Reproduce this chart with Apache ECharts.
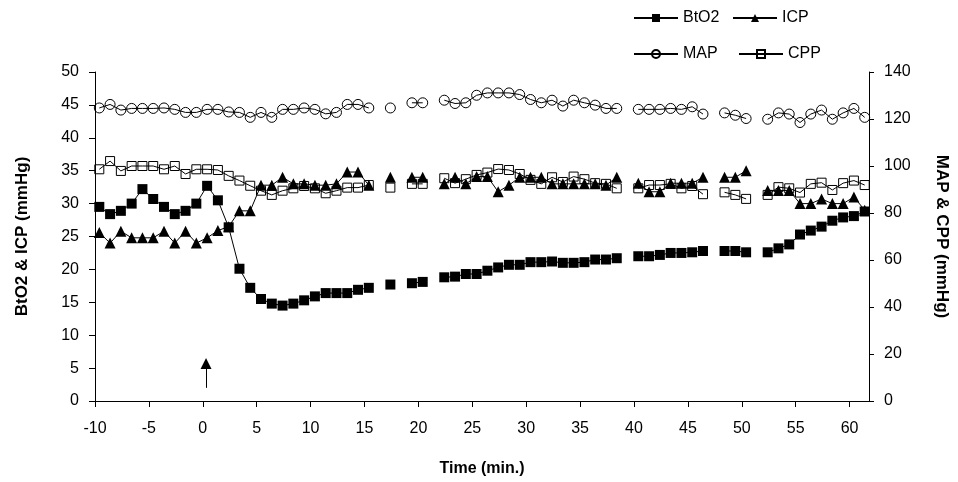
<!DOCTYPE html>
<html>
<head>
<meta charset="utf-8">
<script src="https://cdn.jsdelivr.net/npm/echarts@6/dist/echarts.min.js"></script>
<style>
	html, body { margin: 0; padding: 0; background: #fff; }
	#e_chart_1 { width: 958px; height: 482px; }
</style>
</head>
<body>
<div id="e_chart_1"></div>
<script>
/*Brain oxygen chart*/

"use strict";

/*****Data start*****/
var timeMin = [
	-9.6, -8.6, -7.6, -6.6, -5.6, -4.6, -3.6, -2.6, -1.6, -0.6,
	0.4, 1.4, 2.4, 3.4, 4.4, 5.4, 6.4, 7.4, 8.4, 9.4,
	10.4, 11.4, 12.4, 13.4, 14.4, 15.4, 16.4, 17.4, 18.4, 19.4,
	20.4, 21.4, 22.4, 23.4, 24.4, 25.4, 26.4, 27.4, 28.4, 29.4,
	30.4, 31.4, 32.4, 33.4, 34.4, 35.4, 36.4, 37.4, 38.4, 39.4,
	40.4, 41.4, 42.4, 43.4, 44.4, 45.4, 46.4, 47.4, 48.4, 49.4,
	50.4, 51.4, 52.4, 53.4, 54.4, 55.4, 56.4, 57.4, 58.4, 59.4,
	60.4, 61.4
];
var btO2 = [
	29.5, 28.4, 28.9, 30.0, 32.2, 30.7, 29.5, 28.4, 28.9, 30.0,
	32.7, 30.5, 26.4, 20.1, 17.2, 15.5, 14.8, 14.5, 14.8, 15.3,
	15.9, 16.4, 16.4, 16.4, 16.9, 17.2, null, 17.7, null, 17.9,
	18.1, null, 18.8, 18.9, 19.3, 19.3, 19.8, 20.3, 20.7, 20.7,
	21.1, 21.1, 21.2, 21.0, 21.0, 21.1, 21.5, 21.5, 21.7, null,
	22.0, 22.0, 22.2, 22.5, 22.5, 22.6, 22.8, null, 22.8, 22.8,
	22.6, null, 22.6, 23.2, 23.8, 25.3, 25.9, 26.5, 27.4, 27.9,
	28.1, 28.8
];
var icp = [
	25.6, 24.0, 25.8, 24.8, 24.8, 24.8, 25.8, 24.0, 25.8, 24.0,
	24.8, 25.9, 26.5, 28.9, 28.9, 32.8, 32.8, 34.0, 33.0, 33.0,
	32.8, 32.8, 33.0, 34.8, 34.8, 32.8, null, 34.0, null, 34.0,
	34.0, null, 33.0, 34.0, 33.0, 34.1, 34.1, 31.8, 32.8, 34.0,
	34.0, 34.0, 33.0, 33.0, 33.0, 33.0, 33.0, 32.8, 34.0, null,
	33.1, 31.8, 31.8, 33.1, 33.1, 33.1, 34.0, null, 34.0, 34.0,
	35.0, null, 32.0, 32.0, 32.0, 30.0, 30.0, 30.7, 30.0, 30.0,
	31.0, 29.0
];
var map = [
	124.7, 126.2, 123.8, 124.5, 124.5, 124.5, 124.7, 124.1, 122.8, 122.8,
	124.1, 124.1, 123.0, 122.8, 120.7, 122.8, 120.7, 124.1, 124.1, 124.7,
	124.1, 122.2, 122.8, 126.2, 126.2, 124.7, null, 124.7, null, 126.9,
	126.9, null, 128.0, 126.6, 126.9, 130.1, 131.1, 131.1, 131.1, 130.4,
	128.3, 126.9, 128.0, 125.5, 128.0, 126.9, 125.9, 124.5, 124.5, null,
	124.1, 124.1, 124.1, 124.5, 124.1, 125.2, 122.1, null, 122.6, 121.6,
	120.2, null, 119.9, 122.6, 122.1, 118.5, 122.1, 123.8, 119.9, 122.6,
	124.5, 120.7
];
var cpp = [
	98.6, 102.1, 97.9, 100.0, 100.0, 100.0, 98.6, 100.0, 96.6, 98.6,
	98.6, 98.3, 95.8, 93.8, 91.6, 89.5, 87.7, 89.5, 90.5, 91.5,
	90.5, 88.4, 89.5, 90.8, 90.8, 91.9, null, 90.8, null, 92.4,
	92.4, null, 94.8, 92.7, 94.4, 96.2, 97.2, 98.7, 98.3, 96.6,
	94.1, 92.4, 95.2, 93.2, 95.5, 94.4, 92.7, 92.4, 90.5, null,
	90.5, 91.9, 91.9, 92.4, 90.5, 91.5, 88.0, null, 88.8, 87.7,
	86.0, null, 87.7, 91.0, 90.5, 88.7, 92.4, 92.9, 89.8, 92.7,
	93.8, 91.9
];
// arrow marking time 0: [time, from, to]
var arrowMark = [0.3, 2.0, 5.7];
/*****Data end*****/

var fontFamily = "'Liberation Sans', Arial, sans-serif";

function pairs(vals) {
	var out = [];
	for (var i = 0; i < timeMin.length; i++) {
		out.push([timeMin[i], vals[i]]);
	}
	return out;
}

function legendAt(name, left, top) {
	return {
		data: [name],
		left: left,
		top: top,
		padding: 0,
		itemWidth: 44,
		itemHeight: 10,
		itemGap: 4,
		selectedMode: false,
		textStyle: {
			color: '#000',
			fontFamily: fontFamily,
			fontSize: 16
		}
	};
}

/*****E-Charts function start*****/
var echartsConfig = function() {
	var eChart_1 = echarts.init(document.getElementById('e_chart_1'), null, { renderer: 'canvas' });
	var axisText = {
		color: '#000',
		fontFamily: fontFamily,
		fontSize: 16
	};
	var nameText = {
		color: '#000',
		fontFamily: fontFamily,
		fontSize: 17,
		fontWeight: 'bold'
	};
	var option = {
		backgroundColor: '#fff',
		animation: false,
		grid: {
			left: 95,
			right: 82,
			top: 72,
			bottom: 80,
			containLabel: false
		},
		legend: [
			legendAt('BtO2', 633, 10),
			legendAt('ICP', 732, 10),
			legendAt('MAP', 633, 46),
			legendAt('CPP', 738, 46)
		],
		xAxis: {
			type: 'value',
			min: -10,
			max: 61.8,
			interval: 5,
			name: 'Time (min.)',
			nameLocation: 'middle',
			nameGap: 60,
			nameTextStyle: Object.assign({}, nameText, { fontSize: 16 }),
			axisLine: { onZero: false, lineStyle: { color: '#000', width: 1 } },
			axisTick: { show: true, length: 6, lineStyle: { color: '#000' } },
			axisLabel: Object.assign({ margin: 20, showMaxLabel: false }, axisText),
			splitLine: { show: false }
		},
		yAxis: [
			{
				type: 'value',
				min: 0,
				max: 50,
				interval: 5,
				position: 'left',
				name: 'BtO2 & ICP (mmHg)',
				nameLocation: 'middle',
				nameRotate: 90,
				nameGap: 64,
				nameTextStyle: nameText,
				axisLine: { show: true, onZero: false, lineStyle: { color: '#000', width: 1 } },
				axisTick: { show: true, length: 6, lineStyle: { color: '#000' } },
				axisLabel: Object.assign({ margin: 16 }, axisText),
				splitLine: { show: false }
			},
			{
				type: 'value',
				min: 0,
				max: 140,
				interval: 20,
				position: 'right',
				name: 'MAP & CPP (mmHg)',
				nameLocation: 'middle',
				nameRotate: -90,
				nameGap: 64,
				nameTextStyle: nameText,
				axisLine: { show: true, onZero: false, lineStyle: { color: '#000', width: 1 } },
				axisTick: { show: true, length: 5, lineStyle: { color: '#000' } },
				axisLabel: Object.assign({ margin: 15 }, axisText),
				splitLine: { show: false }
			}
		],
		series: [
			{
				name: 'BtO2',
				type: 'line',
				yAxisIndex: 0,
				symbol: 'rect',
				symbolSize: 10,
				connectNulls: false,
				itemStyle: { color: '#000' },
				lineStyle: { color: '#000', width: 1 },
				data: pairs(btO2),
				z: 3,
				markLine: {
					silent: true,
					symbol: ['none', 'triangle'],
					symbolSize: 11,
					label: { show: false },
					itemStyle: { color: '#000' },
					lineStyle: { color: '#000', width: 1, type: 'solid' },
					data: [[
						{ coord: [arrowMark[0], arrowMark[1]] },
						{ coord: [arrowMark[0], arrowMark[2]] }
					]]
				}
			},
			{
				name: 'ICP',
				type: 'line',
				yAxisIndex: 0,
				symbol: 'triangle',
				symbolSize: 11,
				connectNulls: false,
				itemStyle: { color: '#000' },
				lineStyle: { color: '#000', width: 1 },
				data: pairs(icp),
				z: 4
			},
			{
				name: 'MAP',
				type: 'line',
				yAxisIndex: 1,
				symbol: 'circle',
				symbolSize: 10,
				connectNulls: false,
				itemStyle: { color: 'rgba(255,255,255,0)', borderColor: '#000', borderWidth: 1 },
				lineStyle: { color: '#000', width: 1 },
				data: pairs(map),
				z: 2
			},
			{
				name: 'CPP',
				type: 'line',
				yAxisIndex: 1,
				symbol: 'rect',
				symbolSize: 9,
				connectNulls: false,
				itemStyle: { color: 'rgba(255,255,255,0)', borderColor: '#000', borderWidth: 1 },
				lineStyle: { color: '#000', width: 1 },
				data: pairs(cpp),
				z: 2
			}
		]
	};
	eChart_1.setOption(option);
	eChart_1.resize();
};
/*****E-Charts function end*****/

echartsConfig();
</script>
</body>
</html>
